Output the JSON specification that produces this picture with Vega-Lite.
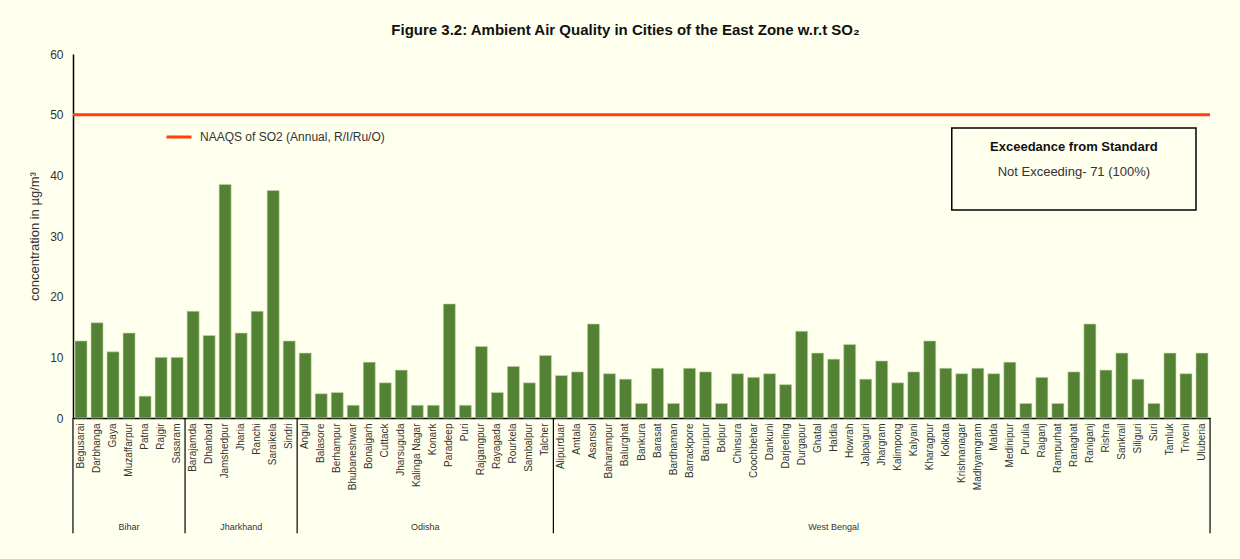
{
  "$schema": "https://vega.github.io/schema/vega-lite/v6.json",
  "width": 1137,
  "height": 364,
  "autosize": {"type": "none"},
  "padding": {"left": 73, "top": 54, "right": 30, "bottom": 141},
  "background": "#FFFFEE",
  "config": {"view": {"stroke": null}, "font": "Liberation Sans"},
  "title": {
    "text": "Figure 3.2: Ambient Air Quality in Cities of the East Zone w.r.t SO₂",
    "font": "Liberation Sans Narrow, Liberation Sans",
    "fontSize": 15,
    "fontWeight": "bold",
    "color": "#111111",
    "offset": 10,
    "dx": -16
  },
  "datasets": {
    "cities": [
      {"city": "Begusarai", "state": "Bihar", "value": 12.7},
      {"city": "Darbhanga", "state": "Bihar", "value": 15.7},
      {"city": "Gaya", "state": "Bihar", "value": 10.9},
      {"city": "Muzaffarpur", "state": "Bihar", "value": 14.0},
      {"city": "Patna", "state": "Bihar", "value": 3.6},
      {"city": "Rajgir", "state": "Bihar", "value": 10.0},
      {"city": "Sasaram", "state": "Bihar", "value": 10.0},
      {"city": "Barajamda", "state": "Jharkhand", "value": 17.6},
      {"city": "Dhanbad", "state": "Jharkhand", "value": 13.6},
      {"city": "Jamshedpur", "state": "Jharkhand", "value": 38.5},
      {"city": "Jharia", "state": "Jharkhand", "value": 14.0},
      {"city": "Ranchi", "state": "Jharkhand", "value": 17.6},
      {"city": "Saraikela", "state": "Jharkhand", "value": 37.5},
      {"city": "Sindri", "state": "Jharkhand", "value": 12.7},
      {"city": "Angul", "state": "Odisha", "value": 10.7},
      {"city": "Balasore", "state": "Odisha", "value": 4.0},
      {"city": "Berhampur", "state": "Odisha", "value": 4.2},
      {"city": "Bhubaneshwar", "state": "Odisha", "value": 2.1},
      {"city": "Bonaigarh", "state": "Odisha", "value": 9.2},
      {"city": "Cuttack", "state": "Odisha", "value": 5.8},
      {"city": "Jharsuguda", "state": "Odisha", "value": 7.9},
      {"city": "Kalinga Nagar", "state": "Odisha", "value": 2.1},
      {"city": "Konark", "state": "Odisha", "value": 2.1},
      {"city": "Paradeep", "state": "Odisha", "value": 18.8},
      {"city": "Puri", "state": "Odisha", "value": 2.1},
      {"city": "Rajgangpur", "state": "Odisha", "value": 11.8},
      {"city": "Rayagada", "state": "Odisha", "value": 4.2},
      {"city": "Rourkela", "state": "Odisha", "value": 8.5},
      {"city": "Sambalpur", "state": "Odisha", "value": 5.8},
      {"city": "Talcher", "state": "Odisha", "value": 10.3},
      {"city": "Alipurduar", "state": "West Bengal", "value": 7.0},
      {"city": "Amtala", "state": "West Bengal", "value": 7.6},
      {"city": "Asansol", "state": "West Bengal", "value": 15.5},
      {"city": "Baharampur", "state": "West Bengal", "value": 7.3},
      {"city": "Balurghat", "state": "West Bengal", "value": 6.4},
      {"city": "Bankura", "state": "West Bengal", "value": 2.4},
      {"city": "Barasat", "state": "West Bengal", "value": 8.2},
      {"city": "Bardhaman", "state": "West Bengal", "value": 2.4},
      {"city": "Barrackpore", "state": "West Bengal", "value": 8.2},
      {"city": "Baruipur", "state": "West Bengal", "value": 7.6},
      {"city": "Bolpur", "state": "West Bengal", "value": 2.4},
      {"city": "Chinsura", "state": "West Bengal", "value": 7.3},
      {"city": "Coochbehar", "state": "West Bengal", "value": 6.7},
      {"city": "Dankuni", "state": "West Bengal", "value": 7.3},
      {"city": "Darjeeling", "state": "West Bengal", "value": 5.5},
      {"city": "Durgapur", "state": "West Bengal", "value": 14.3},
      {"city": "Ghatal", "state": "West Bengal", "value": 10.7},
      {"city": "Haldia", "state": "West Bengal", "value": 9.7},
      {"city": "Howrah", "state": "West Bengal", "value": 12.1},
      {"city": "Jalpaiguri", "state": "West Bengal", "value": 6.4},
      {"city": "Jhargram", "state": "West Bengal", "value": 9.4},
      {"city": "Kalimpong", "state": "West Bengal", "value": 5.8},
      {"city": "Kalyani", "state": "West Bengal", "value": 7.6},
      {"city": "Kharagpur", "state": "West Bengal", "value": 12.7},
      {"city": "Kolkata", "state": "West Bengal", "value": 8.2},
      {"city": "Krishnanagar", "state": "West Bengal", "value": 7.3},
      {"city": "Madhyamgram", "state": "West Bengal", "value": 8.2},
      {"city": "Malda", "state": "West Bengal", "value": 7.3},
      {"city": "Medinipur", "state": "West Bengal", "value": 9.2},
      {"city": "Purulia", "state": "West Bengal", "value": 2.4},
      {"city": "Raiganj", "state": "West Bengal", "value": 6.7},
      {"city": "Rampurhat", "state": "West Bengal", "value": 2.4},
      {"city": "Ranaghat", "state": "West Bengal", "value": 7.6},
      {"city": "Raniganj", "state": "West Bengal", "value": 15.5},
      {"city": "Rishra", "state": "West Bengal", "value": 7.9},
      {"city": "Sankrail", "state": "West Bengal", "value": 10.7},
      {"city": "Siliguri", "state": "West Bengal", "value": 6.4},
      {"city": "Suri", "state": "West Bengal", "value": 2.4},
      {"city": "Tamluk", "state": "West Bengal", "value": 10.7},
      {"city": "Triveni", "state": "West Bengal", "value": 7.3},
      {"city": "Uluberia", "state": "West Bengal", "value": 10.7}
    ],
    "statesOdd": [
      {"state": "Bihar", "mid": "Muzaffarpur"},
      {"state": "Jharkhand", "mid": "Jharia"},
      {"state": "West Bengal", "mid": "Haldia"}
    ],
    "statesEven": [
      {"state": "Odisha", "mid": "Konark"}
    ],
    "bounds": [
      {"first": "Begusarai"},
      {"first": "Barajamda"},
      {"first": "Angul"},
      {"first": "Alipurduar"}
    ],
    "standard": [
      {"label": "NAAQS of SO2 (Annual, R/I/Ru/O)", "limit": 50}
    ]
  },
  "layer": [
    {
      "data": {"name": "cities"},
      "mark": {"type": "bar", "color": "#548235", "stroke": "#c5d6a8", "strokeWidth": 0.6},
      "encoding": {
        "x": {
          "field": "city",
          "type": "nominal",
          "sort": null,
          "scale": {
            "paddingInner": 0.25,
            "paddingOuter": 0.125,
            "domain": ["Begusarai","Darbhanga","Gaya","Muzaffarpur","Patna","Rajgir","Sasaram","Barajamda","Dhanbad","Jamshedpur","Jharia","Ranchi","Saraikela","Sindri","Angul","Balasore","Berhampur","Bhubaneshwar","Bonaigarh","Cuttack","Jharsuguda","Kalinga Nagar","Konark","Paradeep","Puri","Rajgangpur","Rayagada","Rourkela","Sambalpur","Talcher","Alipurduar","Amtala","Asansol","Baharampur","Balurghat","Bankura","Barasat","Bardhaman","Barrackpore","Baruipur","Bolpur","Chinsura","Coochbehar","Dankuni","Darjeeling","Durgapur","Ghatal","Haldia","Howrah","Jalpaiguri","Jhargram","Kalimpong","Kalyani","Kharagpur","Kolkata","Krishnanagar","Madhyamgram","Malda","Medinipur","Purulia","Raiganj","Rampurhat","Ranaghat","Raniganj","Rishra","Sankrail","Siliguri","Suri","Tamluk","Triveni","Uluberia"]
          },
          "axis": {
            "title": null,
            "labelAngle": -90,
            "labelFontSize": 10,
            "labelColor": "#333333",
            "ticks": false,
            "domainColor": "#000000",
            "domainWidth": 1.5,
            "labelPadding": 5
          }
        },
        "y": {
          "field": "value",
          "type": "quantitative",
          "scale": {"domain": [0, 60], "nice": false},
          "axis": {
            "title": "concentration in µg/m³",
            "titleFontSize": 13,
            "titleFontWeight": "normal",
            "titleColor": "#333333",
            "titlePadding": 8,
            "values": [0, 10, 20, 30, 40, 50, 60],
            "labelFontSize": 12,
            "labelColor": "#333333",
            "labelPadding": 10,
            "ticks": false,
            "grid": false,
            "domainColor": "#000000",
            "domainWidth": 1.5
          }
        }
      }
    },
    {
      "data": {"name": "standard"},
      "mark": {"type": "rule", "strokeWidth": 3},
      "encoding": {
        "y": {"field": "limit", "type": "quantitative"},
        "color": {
          "field": "label",
          "type": "nominal",
          "scale": {"range": ["#FF3D0D"]},
          "legend": {
            "title": null,
            "orient": "none",
            "legendX": 92,
            "legendY": 69,
            "symbolType": "stroke",
            "symbolSize": 625,
            "symbolStrokeWidth": 3,
            "labelFontSize": 12,
            "labelColor": "#333333",
            "labelOffset": 7,
            "labelLimit": 500
          }
        }
      }
    },
    {
      "data": {"name": "bounds"},
      "mark": {"type": "rule", "color": "#000000", "strokeWidth": 1.2},
      "encoding": {
        "x": {"field": "first", "type": "nominal", "bandPosition": -0.17},
        "y": {"datum": 0},
        "y2": {"datum": -19}
      }
    },
    {
      "data": {"values": [{"last": "Uluberia"}]},
      "mark": {"type": "rule", "color": "#000000", "strokeWidth": 1.2},
      "encoding": {
        "x": {"field": "last", "type": "nominal", "bandPosition": 1.17},
        "y": {"datum": 0},
        "y2": {"datum": -19}
      }
    },
    {
      "data": {"name": "statesOdd"},
      "mark": {"type": "text", "fontSize": 9, "color": "#333333", "baseline": "middle"},
      "encoding": {
        "x": {"field": "mid", "type": "nominal", "bandPosition": 0.5},
        "y": {"datum": -18},
        "text": {"field": "state"}
      }
    },
    {
      "data": {"name": "statesEven"},
      "mark": {"type": "text", "fontSize": 9, "color": "#333333", "baseline": "middle"},
      "encoding": {
        "x": {"field": "mid", "type": "nominal", "bandPosition": -0.17},
        "y": {"datum": -18},
        "text": {"field": "state"}
      }
    },
    {
      "data": {"values": [{"box": "exceedance"}]},
      "mark": {"type": "rect", "fill": "#FFFFEE", "stroke": "#000000", "strokeWidth": 1.5},
      "encoding": {
        "x": {"datum": "Kolkata", "bandPosition": 1},
        "x2": {"datum": "Uluberia", "bandPosition": 0},
        "y": {"datum": 47.8},
        "y2": {"datum": 34.3}
      }
    },
    {
      "data": {"values": [{"line": "Exceedance from Standard", "pos": 44.6}]},
      "mark": {"type": "text", "fontSize": 13, "fontWeight": "bold", "color": "#111111", "baseline": "middle"},
      "encoding": {
        "x": {"datum": "Ranaghat", "bandPosition": 0.5},
        "y": {"field": "pos", "type": "quantitative"},
        "text": {"field": "line"}
      }
    },
    {
      "data": {"values": [{"line": "Not Exceeding- 71 (100%)", "pos": 40.6}]},
      "mark": {"type": "text", "fontSize": 13, "color": "#333333", "baseline": "middle"},
      "encoding": {
        "x": {"datum": "Ranaghat", "bandPosition": 0.5},
        "y": {"field": "pos", "type": "quantitative"},
        "text": {"field": "line"}
      }
    }
  ]
}
